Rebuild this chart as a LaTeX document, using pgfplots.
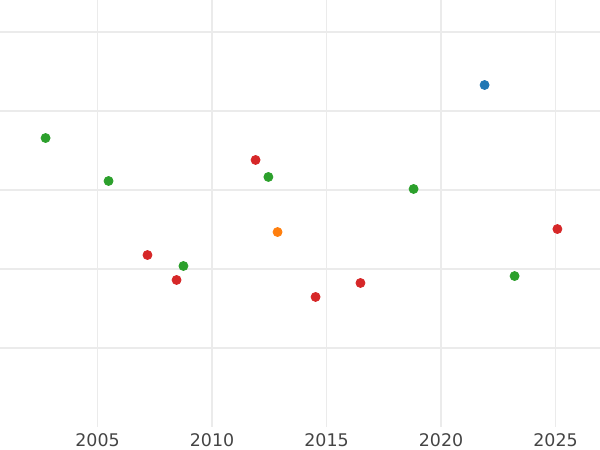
\documentclass[border=0pt]{standalone}
\usepackage{pgfplots}
\pgfplotsset{compat=1.18}
\usepackage{fontspec}
\setmainfont{DejaVu Sans}
\definecolor{cblue}{HTML}{1F77B4}
\definecolor{corange}{HTML}{FF7F0E}
\definecolor{cgreen}{HTML}{2CA02C}
\definecolor{cred}{HTML}{D62728}
\definecolor{gridc}{HTML}{EBEBEB}
\definecolor{tickc}{HTML}{444444}
\begin{document}
\begin{tikzpicture}
\begin{axis}[
  at={(0,0)}, anchor=south west,
  scale only axis, width=300pt, height=213.5pt,
  xmin=2000.74, xmax=2026.94,
  ymin=-1, ymax=4.405,
  axis line style={draw=none},
  xtick={2005,2010,2015,2020,2025},
  ytick={0,1,2,3,4},
  yticklabels={},
  major tick length=0pt,
  xmajorgrids, ymajorgrids,
  grid style={gridc, line width=0.6pt},
  xticklabel style={font=\fontsize{8.7}{10}\selectfont, text=tickc},
  /pgf/number format/assume math mode=true,
  /pgf/number format/1000 sep={},
  clip=false,
]
\addplot[only marks, mark=*, mark size=2.25pt, cgreen, mark options={draw=none, fill=cgreen}] coordinates {
(2002.73,2.658) (2005.48,2.114) (2008.75,1.038) (2012.46,2.165) (2018.80,2.013) (2023.21,0.911)};
\addplot[only marks, mark=*, mark size=2.25pt, cred, mark options={draw=none, fill=cred}] coordinates {
(2007.18,1.177) (2008.45,0.861) (2011.90,2.380) (2014.52,0.646) (2016.48,0.823) (2025.08,1.506)};
\addplot[only marks, mark=*, mark size=2.25pt, cblue, mark options={draw=none, fill=cblue}] coordinates {
(2021.90,3.329)};
\addplot[only marks, mark=*, mark size=2.25pt, corange, mark options={draw=none, fill=corange}] coordinates {
(2012.86,1.468)};
\end{axis}
\pgfresetboundingbox
\path (0,-11.5pt) rectangle (300pt,213.5pt);
\end{tikzpicture}
\end{document}
